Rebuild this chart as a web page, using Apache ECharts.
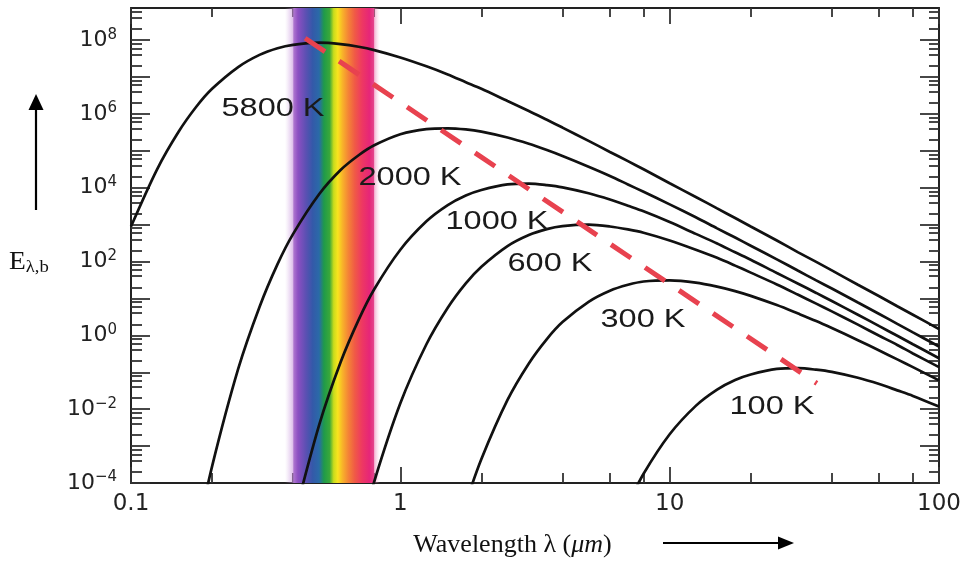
<!DOCTYPE html>
<html>
<head>
<meta charset="utf-8">
<script src="https://cdn.jsdelivr.net/npm/echarts@6/dist/echarts.min.js"></script>
<style>html,body{margin:0;padding:0;background:#fff}#chart{width:970px;height:563px}</style>
</head>
<body>
<div id="chart"></div>
<script>
// ---- data (log10 of E_lambda,b; wavelength in micrometres) ----
const wavelengths = [0.1, 0.125, 0.15, 0.175, 0.2, 0.25, 0.3, 0.35, 0.4, 0.5, 0.6, 0.7, 0.8, 1, 1.25, 1.5, 1.75, 2, 2.5, 3, 3.5, 4, 5, 6, 7, 8, 10, 12.5, 15, 17.5, 20, 25, 30, 35, 40, 50, 60, 70, 80, 100];
const logE5800K = [2.95, 4.50, 5.51, 6.20, 6.68, 7.27, 7.60, 7.78, 7.87, 7.93, 7.89, 7.82, 7.73, 7.53, 7.29, 7.07, 6.86, 6.68, 6.35, 6.08, 5.84, 5.63, 5.27, 4.97, 4.72, 4.50, 4.12, 3.75, 3.44, 3.18, 2.95, 2.57, 2.25, 1.99, 1.76, 1.37, 1.06, 0.79, 0.56, 0.17];
const logE2000K = [null, null, null, -5.50, -3.55, -0.91, 0.77, 1.93, 2.75, 3.83, 4.48, 4.88, 5.15, 5.45, 5.59, 5.61, 5.58, 5.52, 5.36, 5.19, 5.02, 4.86, 4.57, 4.32, 4.09, 3.89, 3.55, 3.20, 2.90, 2.65, 2.43, 2.06, 1.75, 1.49, 1.27, 0.89, 0.58, 0.31, 0.08, -0.30];
const logE1000K = [null, null, null, null, null, null, null, null, -5.06, -2.42, -0.73, 0.42, 1.25, 2.32, 3.09, 3.53, 3.79, 3.94, 4.09, 4.11, 4.07, 4.01, 3.85, 3.68, 3.51, 3.36, 3.07, 2.75, 2.49, 2.25, 2.05, 1.69, 1.40, 1.15, 0.93, 0.56, 0.25, -0.01, -0.24, -0.62];
const logE600K = [null, null, null, null, null, null, null, null, null, null, null, -5.53, -3.96, -1.84, -0.24, 0.75, 1.41, 1.86, 2.42, 2.72, 2.88, 2.96, 3.00, 2.95, 2.87, 2.78, 2.57, 2.32, 2.10, 1.89, 1.70, 1.38, 1.10, 0.86, 0.65, 0.29, -0.01, -0.26, -0.49, -0.86];
const logE300K = [null, null, null, null, null, null, null, null, null, null, null, null, null, null, null, null, -4.54, -3.35, -1.75, -0.76, -0.10, 0.36, 0.91, 1.21, 1.37, 1.46, 1.49, 1.43, 1.32, 1.20, 1.07, 0.82, 0.59, 0.39, 0.20, -0.13, -0.41, -0.65, -0.86, -1.22];
const logE100K = [null, null, null, null, null, null, null, null, null, null, null, null, null, null, null, null, null, null, null, null, null, null, null, null, -4.58, -3.75, -2.68, -1.91, -1.47, -1.21, -1.06, -0.91, -0.89, -0.93, -0.99, -1.15, -1.32, -1.49, -1.64, -1.93];
const curveNames = ['5800 K', '2000 K', '1000 K', '600 K', '300 K', '100 K'];
const wienLambda = [0.443, 35.2];
const wienLogE = [8.05, -1.30];
const visibleBand = [0.4, 0.8];
const bandFade = [0.373, 0.84];
const xTickValues = [0.1, 1, 10, 100];
const xTickLabels = ['0.1', '1', '10', '100'];
const yLabelExponents = [-4, -2, 0, 2, 4, 6, 8];
const minorMultipliers = [2, 4, 6, 8];
const xTitle = 'Wavelength';
const yTitleMain = 'E';
const yTitleSub = 'λ,b';

// ---- layout / style ----
const lg = Math.log10;
const X_MIN = -1, X_MAX = 2, Y_MIN = -4, Y_MAX = 8.87;
const xMajor = xTickValues.map(lg);
const xMinor = [];
for (let n = -1; n < 2; n++) for (const k of minorMultipliers) xMinor.push(n + lg(k));
const yMajor = [];
for (let n = -4; n <= 8; n++) yMajor.push(n);
const yMinor = [];
for (let n = -4; n <= 8; n++) for (const k of minorMultipliers) { const v = n + lg(k); if (v < Y_MAX) yMinor.push(v); }

const AX = '#222', TK = '#333';
const tickFont = 'DejaVu Sans';

function xAxisDef(pos, ticks, len, main, labels) {
  return {
    type: 'value', min: X_MIN, max: X_MAX, position: pos, gridIndex: 0,
    axisLine: { show: main, onZero: false, lineStyle: { color: AX, width: 2 } },
    axisTick: { show: true, inside: true, length: len, customValues: ticks, lineStyle: { color: TK, width: 1.8 } },
    axisLabel: labels ? {
      show: true, customValues: xMajor, margin: 10, color: '#222', fontFamily: tickFont, fontSize: 23,
      formatter: v => { const i = xMajor.findIndex(m => Math.abs(m - v) < 1e-6); return i >= 0 ? xTickLabels[i] : ''; }
    } : { show: false },
    splitLine: { show: false }, minorTick: { show: false }
  };
}
function yAxisDef(pos, ticks, len, main, labels) {
  return {
    type: 'value', min: Y_MIN, max: Y_MAX, position: pos, gridIndex: 0,
    axisLine: { show: main, onZero: false, lineStyle: { color: AX, width: 2 } },
    axisTick: { show: true, inside: true, length: len, customValues: ticks, lineStyle: { color: TK, width: 1.8 } },
    axisLabel: labels ? {
      show: true, customValues: yLabelExponents, margin: 14, align: 'right',
      formatter: v => { const e = Math.round(v); return '{b|10}{s|' + (e < 0 ? '\u2212' + (-e) : e) + '}'; },
      rich: {
        b: { fontFamily: tickFont, fontSize: 22, lineHeight: 26, color: '#222' },
        s: { fontFamily: tickFont, fontSize: 15, lineHeight: 16, verticalAlign: 'top', color: '#222' }
      }
    } : { show: false },
    splitLine: { show: false }, minorTick: { show: false }
  };
}

const curveSets = [logE5800K, logE2000K, logE1000K, logE600K, logE300K, logE100K];
const curveSeries = curveSets.map((arr, idx) => ({
  type: 'line', name: curveNames[idx], xAxisIndex: 0, yAxisIndex: 0,
  data: wavelengths.map((w, i) => [lg(w), arr[i]]).filter(p => p[1] !== null),
  smooth: 0.3, symbol: 'none', clip: true, silent: true, z: 3,
  lineStyle: { color: '#111', width: 2.7 }
}));

const bandSeries = {
  type: 'line', name: 'visible', data: [], z: 1, silent: true,
  markArea: {
    silent: true,
    data: [
      [{ xAxis: lg(bandFade[0]), itemStyle: { color: { type: 'linear', x: 0, y: 0, x2: 1, y2: 0,
          colorStops: [{ offset: 0, color: 'rgba(210,170,225,0)' }, { offset: 1, color: 'rgba(190,130,215,0.55)' }] } } },
       { xAxis: lg(visibleBand[0]) }],
      [{ xAxis: lg(visibleBand[0]), itemStyle: { color: {
        type: 'linear', x: 0, y: 0, x2: 1, y2: 0,
        colorStops: [
          { offset: 0.00, color: '#b27ad0' },
          { offset: 0.06, color: '#8c4fc2' },
          { offset: 0.16, color: '#5a50b2' },
          { offset: 0.24, color: '#3459a9' },
          { offset: 0.32, color: '#2a6aa8' },
          { offset: 0.38, color: '#1f9a4a' },
          { offset: 0.45, color: '#3aa83a' },
          { offset: 0.50, color: '#c8dc1c' },
          { offset: 0.55, color: '#f8e41e' },
          { offset: 0.61, color: '#f8b22a' },
          { offset: 0.68, color: '#f48436' },
          { offset: 0.76, color: '#f05a46' },
          { offset: 0.85, color: '#ee3862' },
          { offset: 0.94, color: '#e62678' },
          { offset: 1.00, color: '#e4488e' }
        ] } } },
       { xAxis: lg(visibleBand[1]) }],
      [{ xAxis: lg(visibleBand[1]), itemStyle: { color: { type: 'linear', x: 0, y: 0, x2: 1, y2: 0,
          colorStops: [{ offset: 0, color: 'rgba(235,110,170,0.55)' }, { offset: 1, color: 'rgba(245,200,220,0)' }] } } },
       { xAxis: lg(bandFade[1]) }]
    ]
  }
};

const wienSeries = {
  type: 'line', name: 'peak', data: wienLambda.map((w, i) => [lg(w), wienLogE[i]]),
  symbol: 'none', silent: true, z: 5, clip: true,
  lineStyle: { color: '#e8424f', width: 5, type: [24, 17] }
};

const labelPos = [[273, 109], [410, 178], [497, 222], [550, 264], [643, 320], [772, 407]];
const graphics = curveNames.map((t, i) => ({
  type: 'text', x: labelPos[i][0], y: labelPos[i][1], scaleX: 1.25, z: 100,
  style: { text: t, fill: '#1a1a1a', fontSize: 26, fontFamily: 'Liberation Sans',
           align: 'center', verticalAlign: 'middle', textAlign: 'center', textVerticalAlign: 'middle' }
}));
// y title
graphics.push({
  type: 'text', x: 9, y: 262, z: 100, scaleX: 1.1,
  style: {
    text: '{E|' + yTitleMain + '}{s|' + yTitleSub + '}', align: 'left', verticalAlign: 'middle',
    textAlign: 'left', textVerticalAlign: 'middle',
    rich: {
      E: { fontFamily: 'Liberation Serif', fontSize: 25, lineHeight: 28, fill: '#111', color: '#111' },
      s: { fontFamily: 'Liberation Serif', fontSize: 17, lineHeight: 18, verticalAlign: 'bottom', fill: '#111', color: '#111' }
    }
  }
});
// arrows
graphics.push({ type: 'line', z: 100, shape: { x1: 36, y1: 210, x2: 36, y2: 106 }, style: { stroke: '#000', lineWidth: 2.2 } });
graphics.push({ type: 'polygon', z: 100, shape: { points: [[36, 94], [28.5, 110], [43.5, 110]] }, style: { fill: '#000' } });
graphics.push({ type: 'line', z: 100, shape: { x1: 663, y1: 543, x2: 782, y2: 543 }, style: { stroke: '#000', lineWidth: 2.2 } });
graphics.push({ type: 'polygon', z: 100, shape: { points: [[794, 543], [778, 536.5], [778, 549.5]] }, style: { fill: '#000' } });

const titleRich = {
  a: { fontFamily: 'Liberation Serif', fontSize: 26, lineHeight: 26, color: '#111' },
  l: { fontFamily: 'Liberation Serif', fontSize: 26, lineHeight: 26, color: '#111' },
  i: { fontFamily: 'Liberation Serif', fontSize: 26, lineHeight: 26, fontStyle: 'italic', color: '#111' }
};

const xMainBottom = xAxisDef('bottom', xMajor, 16, true, true);
xMainBottom.name = '{a|' + xTitle + ' }{l|λ}{a| (}{i|μm}{a|)}';
xMainBottom.nameLocation = 'middle';
xMainBottom.nameGap = 49;
xMainBottom.nameTextStyle = { padding: [0, 45, 0, 0], rich: titleRich };

const option = {
  animation: false,
  backgroundColor: '#ffffff',
  textStyle: { fontFamily: tickFont },
  grid: { left: 131, right: 31, top: 8, bottom: 80, containLabel: false, outerBoundsMode: 'none' },
  xAxis: [
    xMainBottom,
    xAxisDef('bottom', xMinor, 10, false, false),
    xAxisDef('top', xMajor, 16, true, false),
    xAxisDef('top', xMinor, 9, false, false)
  ],
  yAxis: [
    yAxisDef('left', yMajor, 19, true, true),
    yAxisDef('left', yMinor, 11, false, false),
    yAxisDef('right', yMajor, 19, true, false),
    yAxisDef('right', yMinor, 10, false, false)
  ],
  series: [bandSeries].concat(curveSeries, [wienSeries]),
  graphic: graphics
};

const chart = echarts.init(document.getElementById('chart'), null, { renderer: 'canvas' });
chart.setOption(option);
</script>
</body>
</html>
